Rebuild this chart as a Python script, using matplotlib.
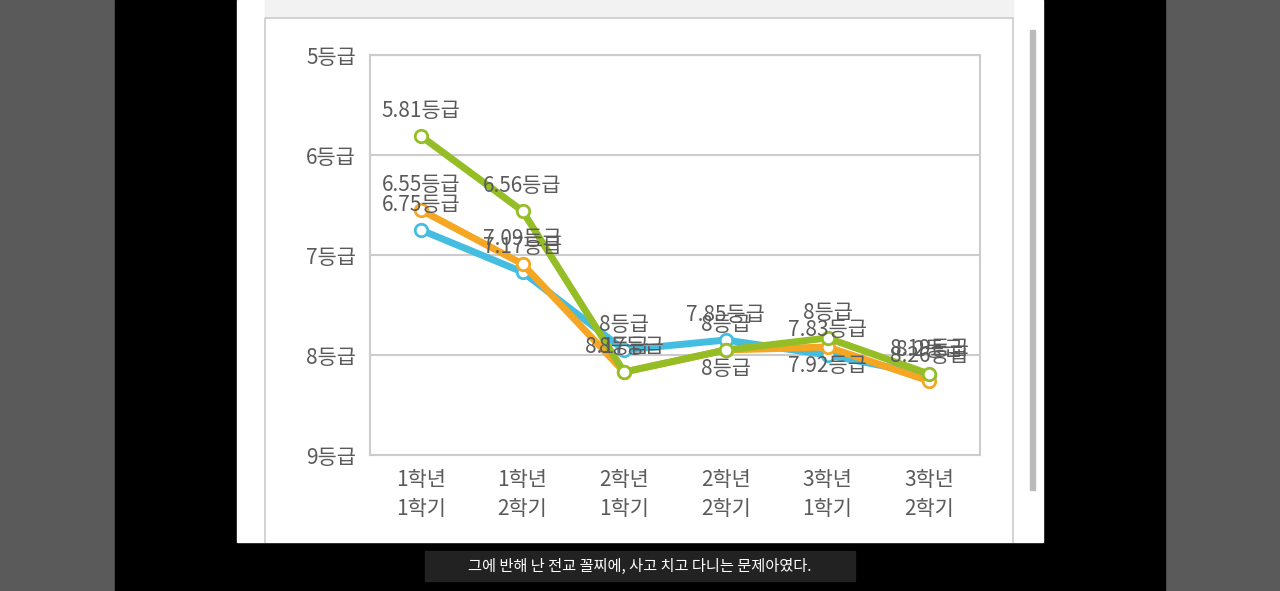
import matplotlib
matplotlib.use("Agg")
import matplotlib.pyplot as plt
from matplotlib.patches import Rectangle

plt.rcParams["font.family"] = ["Noto Sans CJK KR", "Noto Sans CJK JP", "Noto Sans CJK SC", "DejaVu Sans"]

categories = ["1학년\n1학기", "1학년\n2학기", "2학년\n1학기", "2학년\n2학기", "3학년\n1학기", "3학년\n2학기"]
green = [5.81, 6.56, 8.17, 7.95, 7.83, 8.19]
orange = [6.55, 7.09, 8.17, 7.95, 7.92, 8.26]
blue = [6.75, 7.17, 7.95, 7.85, 8.0, 8.20]
green_lbl = ["5.81", "6.56", "8.17", "8", "8", "8.19"]
orange_lbl = ["6.55", "7.09", "8", "8", "7.92", "8.26"]
blue_lbl = ["6.75", "7.17", "8", "7.85", "7.83", "8.2"]
yticks = [5, 6, 7, 8, 9]
caption = "그에 반해 난 전교 꼴찌에, 사고 치고 다니는 문제아였다."

W, H = 1280, 591
fig = plt.figure(figsize=(W/100, H/100), dpi=100)
fig.patch.set_facecolor("#5a5a5a")
bg = fig.add_axes([0, 0, 1, 1]); bg.set_xlim(0, W); bg.set_ylim(H, 0); bg.axis("off")
bg.add_patch(Rectangle((115, 0), 1050, H, color="#000000"))
bg.add_patch(Rectangle((237, 0), 806, 542, color="#ffffff"))
bg.add_patch(Rectangle((265, -5), 748, 23, color="#f2f2f2"))
bg.plot([265, 265, 1013, 1013], [542, 18, 18, 542], color="#cccccc", lw=1.2)
bg.add_patch(Rectangle((1030, 30), 5, 460, color="#bbbbbb"))
bg.add_patch(Rectangle((425, 551), 430, 30, color="#222222"))
bg.text(640, 566, caption, color="white", ha="center", va="center", fontsize=11)

ax = fig.add_axes([370/W, 1-455/H, 610/W, 400/H])
x = list(range(len(categories)))
ax.set_xlim(-0.5, len(categories)-0.5)
ax.set_ylim(9, 5)
ax.set_yticks(yticks)
ax.set_yticklabels([f"{v}등급" for v in yticks], fontsize=15, color="#5a5a5a")
ax.set_xticks(x)
ax.set_xticklabels(categories, fontsize=15, color="#5a5a5a", linespacing=1.4)
ax.grid(axis="y", color="#cccccc", lw=1.5)
ax.tick_params(length=0, pad=10)
for s in ax.spines.values():
    s.set_color("#cccccc"); s.set_linewidth(1.5)
below = {("o", 3), ("o", 4)}
for key, vals, lbls, col in [("b", blue, blue_lbl, "#45bde0"), ("o", orange, orange_lbl, "#f5a623"), ("g", green, green_lbl, "#95bd26")]:
    ax.plot(x, vals, color=col, lw=5, marker="o", ms=9, mfc="white", mec=col, mew=2, zorder=3)
    for xi, v, l in zip(x, vals, lbls):
        dn = (key, xi) in below
        ax.annotate(f"{l}등급", (xi, v), xytext=(0, -6 if dn else 10), textcoords="offset points",
                    ha="center", va="top" if dn else "bottom", fontsize=15, color="#5a5a5a", zorder=4)
fig.savefig("out.png", dpi=100, facecolor=fig.get_facecolor())
